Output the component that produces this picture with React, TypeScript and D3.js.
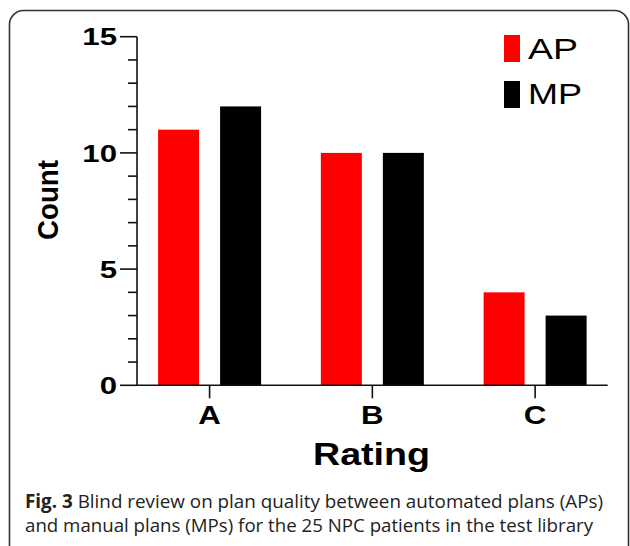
import React from "react";
import * as d3 from "d3";

const categories = ["A", "B", "C"];
const seriesNames = ["AP", "MP"];
const apValues = [11, 10, 4];
const mpValues = [12, 10, 3];
const seriesColors = ["#ff0000", "#000000"];
const majorTicks = [0, 5, 10, 15];
const minorTicks = d3.range(0, 16, 1);
const captionBold = "Fig. 3";
const captionLine1 = " Blind review on plan quality between automated plans (APs)";
const captionLine2 = "and manual plans (MPs) for the 25 NPC patients in the test library";

export default function App() {
  const W = 630, H = 546;
  const x0 = 137, x1 = 607.7, yTop = 36.7, yBot = 385.3;
  const y = d3.scaleLinear().domain([0, 15]).range([yBot, yTop]);
  const x = d3.scalePoint<string>().domain(categories).range([x0, x1]).padding(0.446);
  const inner = d3.scaleBand<string>().domain(seriesNames).range([-51.5, 51.5]).paddingInner(0.339);
  const values = [apValues, mpValues];
  const axisFont = "'Liberation Sans', Arial, Helvetica, sans-serif";

  return (
    <svg width={W} height={H} style={{ position: "absolute", left: 0, top: 0, background: "#fff" }}>
      <rect x={9.5} y={10.5} width={619} height={580} rx={14} ry={14} fill="none" stroke="#333" strokeWidth={1.6} />
      {/* bars */}
      {categories.map((c, i) =>
        seriesNames.map((s, j) => (
          <rect
            key={c + s}
            x={(x(c) as number) + (inner(s) as number)}
            y={y(values[j][i])}
            width={inner.bandwidth()}
            height={yBot - y(values[j][i])}
            fill={seriesColors[j]}
          />
        ))
      )}
      {/* y axis */}
      <line x1={x0} x2={x0} y1={yTop} y2={yBot} stroke="#111" strokeWidth={1.6} />
      {minorTicks.map((t) => (
        <line key={"m" + t} x1={majorTicks.includes(t) ? x0 - 17 : x0 - 9} x2={x0} y1={y(t)} y2={y(t)} stroke="#111" strokeWidth={1.6} />
      ))}
      {majorTicks.map((t) => (
        <text
          key={"t" + t}
          x={117}
          y={y(t)}
          dy="0.36em"
          textAnchor="end"
          fontFamily={axisFont}
          fontWeight="bold"
          fontSize={24}
          transform={`translate(117,0) scale(1.3,1) translate(-117,0)`}
        >
          {t}
        </text>
      ))}
      {/* x axis */}
      <line x1={x0} x2={x1} y1={yBot} y2={yBot} stroke="#111" strokeWidth={1.6} />
      {categories.map((c) => (
        <g key={"x" + c}>
          <line x1={x(c)} x2={x(c)} y1={yBot} y2={yBot + 13} stroke="#111" strokeWidth={1.6} />
          <text
            x={x(c)}
            y={424}
            textAnchor="middle"
            fontFamily={axisFont}
            fontWeight="bold"
            fontSize={25}
            transform={`translate(${x(c)},0) scale(1.25,1) translate(${-(x(c) as number)},0)`}
          >
            {c}
          </text>
        </g>
      ))}
      {/* axis titles */}
      <text
        x={371.5}
        y={465}
        textAnchor="middle"
        fontFamily={axisFont}
        fontWeight="bold"
        fontSize={32}
        textLength={117}
        lengthAdjust="spacingAndGlyphs"
      >
        Rating
      </text>
      <text
        transform="translate(58,200) rotate(-90)"
        textAnchor="middle"
        fontFamily={axisFont}
        fontWeight="bold"
        fontSize={29}
        textLength={80}
        lengthAdjust="spacingAndGlyphs"
      >
        Count
      </text>
      {/* legend */}
      {seriesNames.map((s, j) => (
        <g key={"lg" + s}>
          <rect x={504} y={35 + j * 46} width={16} height={27} fill={seriesColors[j]} />
          <text
            x={528}
            y={59 + j * 45}
            fontFamily={axisFont}
            fontSize={29}
            textLength={s === "AP" ? 50 : 54}
            lengthAdjust="spacingAndGlyphs"
          >
            {s}
          </text>
        </g>
      ))}
      {/* caption */}
      <text x={25} y={508} fontFamily="'Open Sans', sans-serif" fontSize={19} fill="#222" textLength={578} lengthAdjust="spacingAndGlyphs">
        <tspan fontWeight="bold">{captionBold}</tspan>
        <tspan>{captionLine1}</tspan>
      </text>
      <text x={25} y={532} fontFamily="'Open Sans', sans-serif" fontSize={19} fill="#222" textLength={568} lengthAdjust="spacingAndGlyphs">
        {captionLine2}
      </text>
    </svg>
  );
}
